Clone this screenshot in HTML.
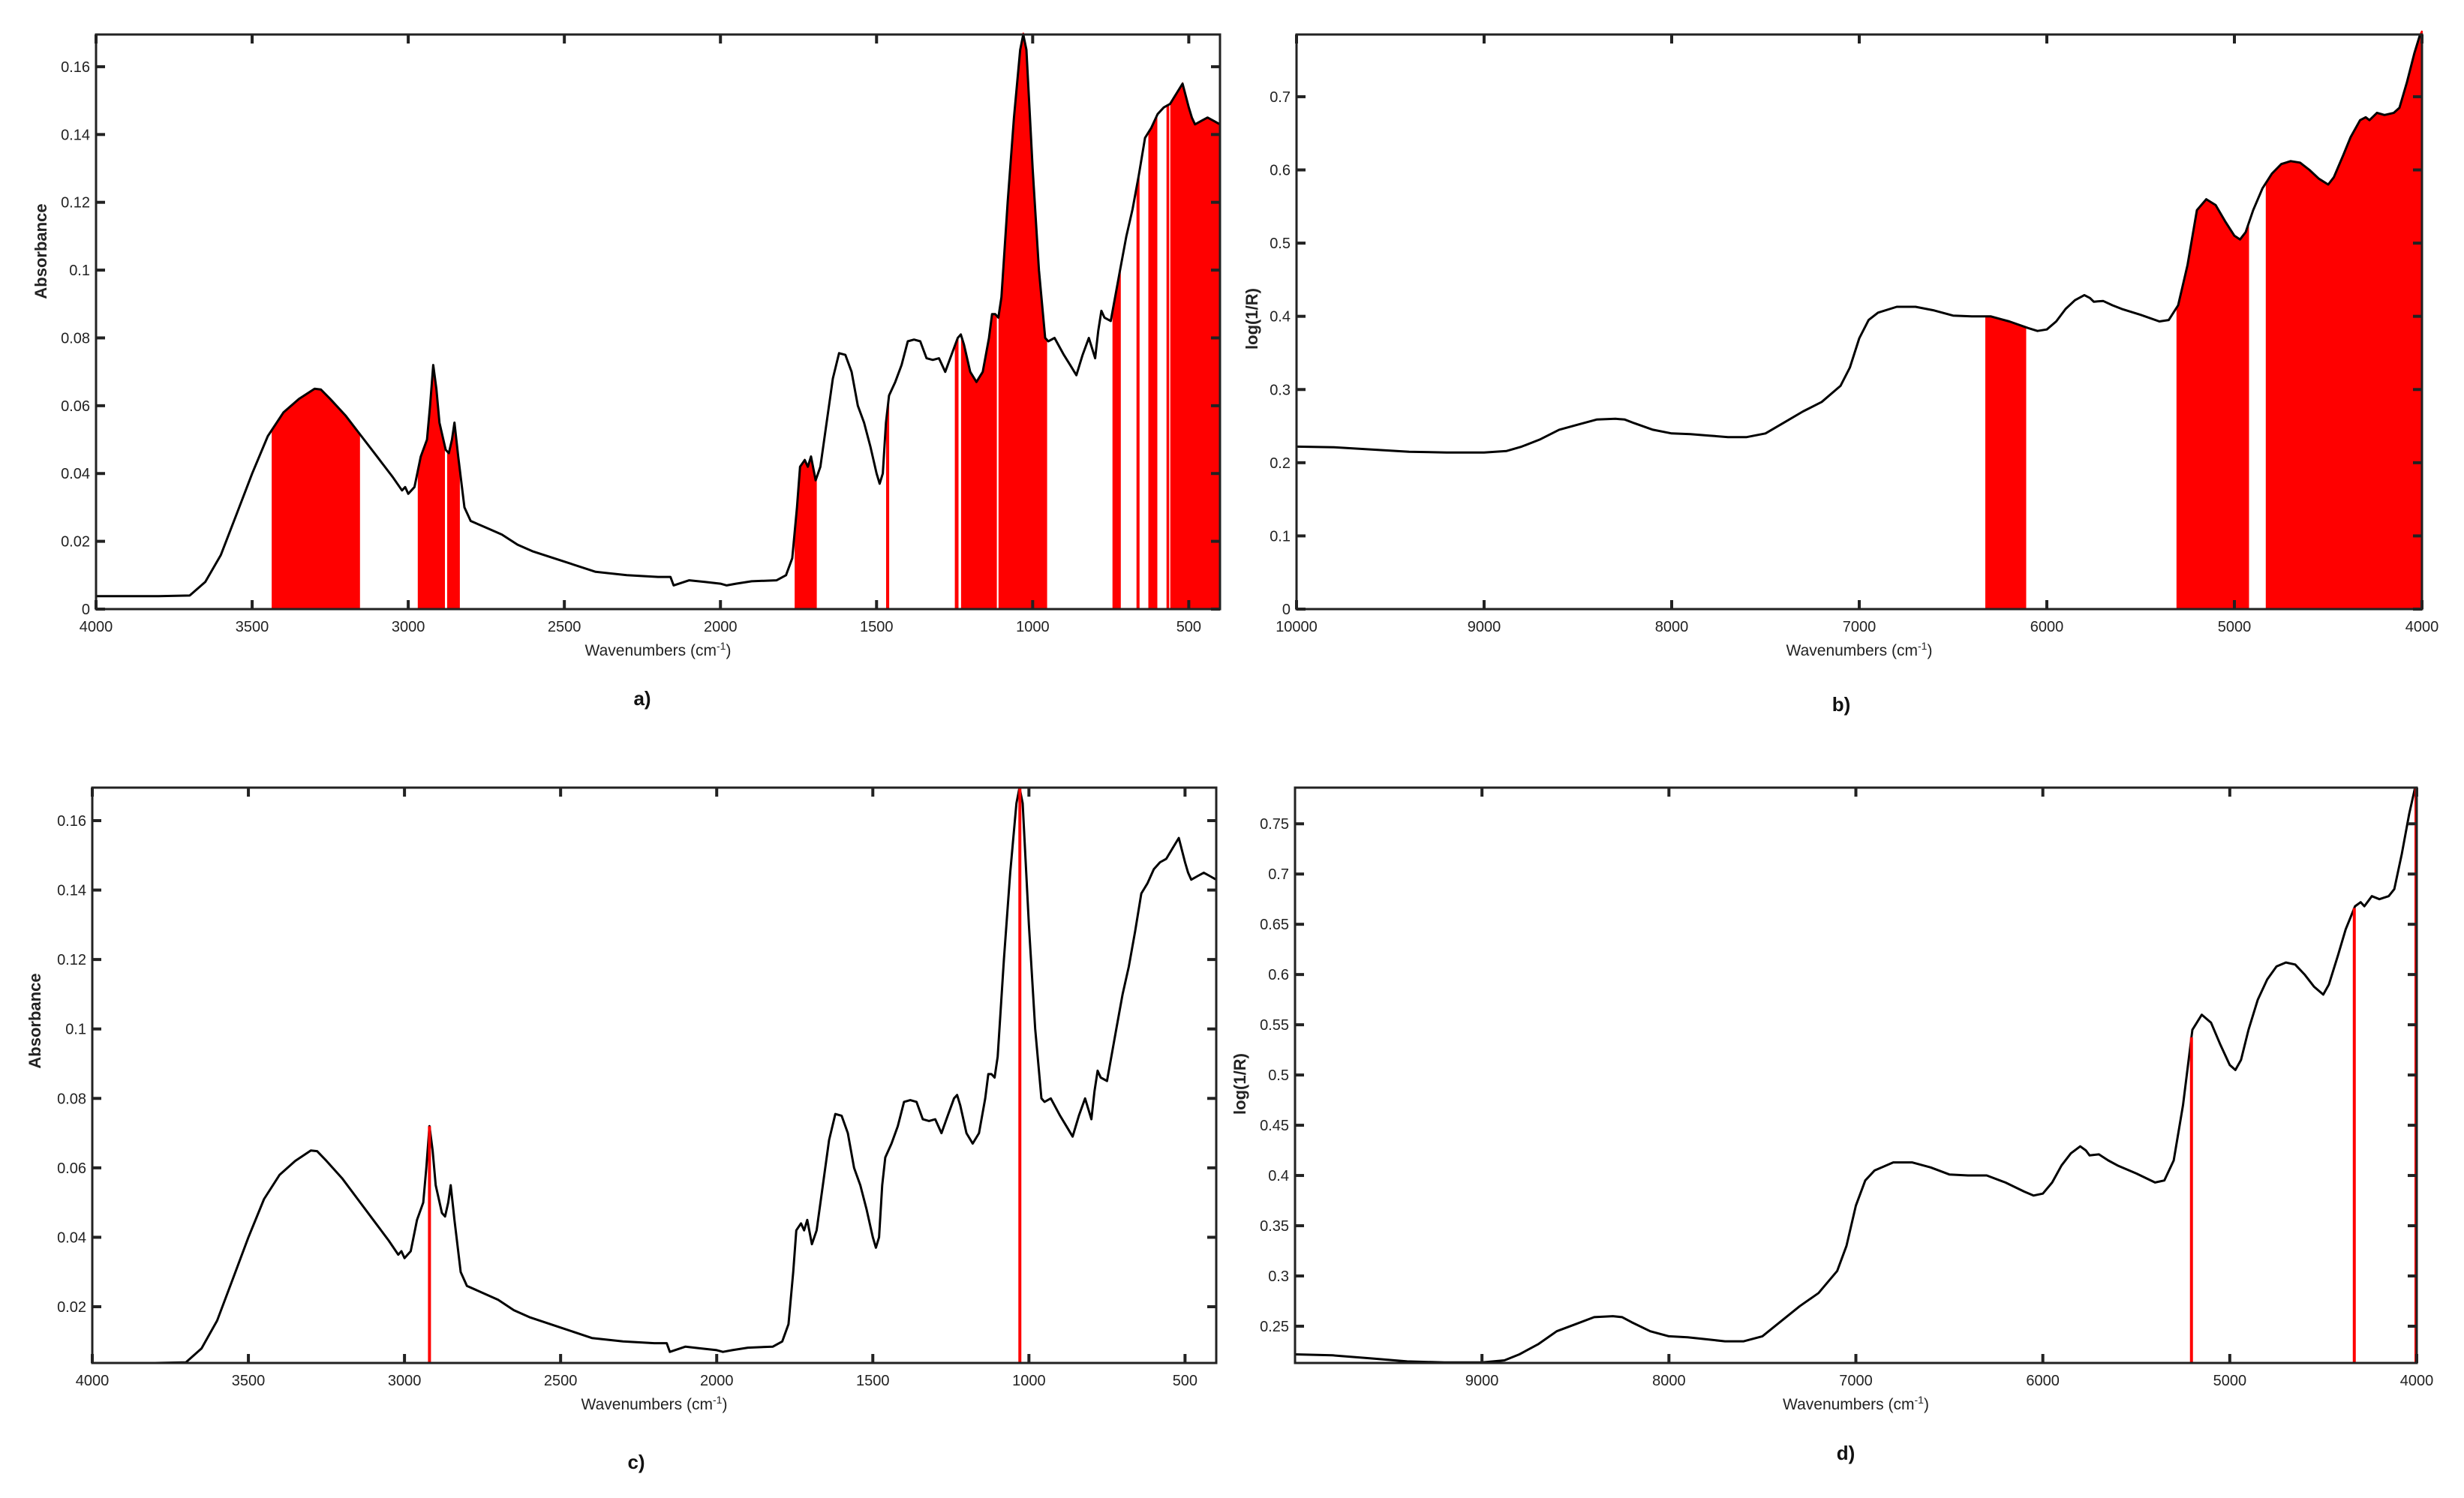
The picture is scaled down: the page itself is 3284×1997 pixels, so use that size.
<!DOCTYPE html>
<html><head><meta charset="utf-8">
<style>
html,body{margin:0;padding:0;background:#fff;}
svg{display:block;font-family:"Liberation Sans",sans-serif;}
</style></head>
<body>
<svg id="fig" width="3284" height="1997" viewBox="0 0 3284 1997" xmlns="http://www.w3.org/2000/svg"></svg>
<script>
// MIR spectrum (panels a, c)
const mirWavenumbers = [4000,3800,3700,3650,3600,3550,3500,3450,3400,3350,3300,3280,3250,3200,3150,3100,3050,3020,3010,3000,2980,2960,2940,2930,2920,2910,2900,2880,2870,2860,2852,2840,2820,2800,2750,2700,2650,2600,2500,2400,2300,2200,2160,2150,2100,2050,2000,1980,1950,1900,1820,1790,1770,1755,1745,1730,1720,1710,1695,1680,1660,1640,1620,1600,1580,1560,1540,1520,1500,1490,1480,1470,1460,1440,1420,1400,1380,1360,1340,1320,1300,1280,1260,1240,1230,1220,1200,1180,1160,1140,1130,1120,1110,1100,1080,1060,1040,1030,1020,1000,980,960,950,930,900,880,860,840,820,810,800,790,780,770,750,720,700,680,660,640,620,600,580,560,540,520,500,490,480,460,440,420,400];
const mirAbsorbance = [.0038,.0038,.004,.008,.016,.028,.040,.051,.058,.062,.065,.0648,.062,.057,.051,.045,.039,.035,.036,.034,.036,.045,.050,.060,.072,.065,.055,.047,.046,.050,.055,.045,.030,.026,.024,.022,.019,.017,.014,.011,.010,.0095,.0095,.007,.0085,.008,.0075,.007,.0075,.0082,.0085,.010,.015,.030,.042,.044,.042,.045,.038,.042,.055,.068,.0755,.075,.070,.060,.055,.048,.040,.037,.040,.055,.063,.067,.072,.079,.0795,.079,.074,.0735,.074,.070,.075,.080,.081,.078,.070,.067,.070,.080,.087,.087,.086,.092,.120,.145,.165,.170,.165,.130,.100,.080,.079,.080,.075,.072,.069,.075,.080,.077,.074,.082,.088,.086,.085,.100,.110,.118,.128,.139,.142,.146,.148,.149,.152,.155,.148,.145,.143,.144,.145,.144,.143];
// NIR spectrum (panels b, d)
const nirWavenumbers = [10000,9800,9600,9400,9200,9000,8880,8800,8700,8600,8500,8400,8300,8250,8200,8100,8000,7900,7800,7700,7600,7500,7400,7300,7200,7100,7050,7000,6950,6900,6800,6700,6600,6500,6400,6300,6200,6100,6050,6000,5950,5900,5850,5800,5770,5750,5700,5650,5600,5500,5400,5350,5300,5250,5200,5150,5100,5050,5000,4970,4940,4900,4850,4800,4750,4700,4650,4600,4550,4500,4470,4420,4380,4330,4300,4280,4240,4200,4150,4120,4080,4040,4010,4000];
const nirLogR = [.222,.221,.218,.215,.214,.214,.216,.222,.232,.245,.252,.259,.260,.259,.254,.245,.240,.239,.237,.235,.235,.240,.255,.270,.283,.305,.330,.370,.395,.405,.413,.413,.408,.401,.400,.400,.393,.384,.380,.382,.393,.410,.422,.429,.425,.420,.421,.415,.410,.402,.393,.395,.415,.470,.545,.560,.552,.530,.510,.505,.515,.545,.575,.595,.608,.612,.610,.600,.588,.580,.590,.620,.645,.668,.672,.668,.678,.675,.678,.685,.720,.760,.785,.790];
// selected regions
const aFillRanges = [[3435,3157],[2967,2885],[2873,2837],[1760,1694],[1467,1462],[1247,1240],[1227,1117],[1107,956],[742,720],[665,660],[627,603],[569,565],[557,400]];
const bFillRanges = [[6324,6114],[5305,4926],[4829,4000]];
const cLines = [2920,1029];
const dLines = [5205,4334,4004];
// ticks
const mirXTicks = [4000,3500,3000,2500,2000,1500,1000,500];
const aYTicks = [0,0.02,0.04,0.06,0.08,0.1,0.12,0.14,0.16];
const cYTicks = [0.02,0.04,0.06,0.08,0.1,0.12,0.14,0.16];
const bXTicks = [10000,9000,8000,7000,6000,5000,4000];
const dXTicks = [9000,8000,7000,6000,5000,4000];
const bYTicks = [0,0.1,0.2,0.3,0.4,0.5,0.6,0.7];
const dYTicks = [0.25,0.3,0.35,0.4,0.45,0.5,0.55,0.6,0.65,0.7,0.75];

const NS="http://www.w3.org/2000/svg";
const fig=document.getElementById('fig');
function mk(tag,attrs,parent){const e=document.createElementNS(NS,tag);for(const k in attrs)e.setAttribute(k,attrs[k]);(parent||fig).appendChild(e);return e;}
function interp(xs,ys,x){for(let i=0;i<xs.length-1;i++){const a=xs[i],b=xs[i+1];if((x<=a&&x>=b)||(x>=a&&x<=b)){const t=(x-a)/(b-a||1);return ys[i]+t*(ys[i+1]-ys[i]);}}return ys[ys.length-1];}
function fmt(v){return String(+v.toFixed(2));}

function panel(p){
  const g=mk('g',{});
  
  
  const sx=v=>p.l+(p.x0-v)/(p.x0-p.x1)*(p.r-p.l);
  const sy=v=>p.b-(v-p.y0)/(p.y1-p.y0)*(p.b-p.t);
  // fills
  (p.fills||[]).forEach(fr=>{
    const hi=fr[0],lo=fr[1];
    let pts=[[sx(hi),p.b],[sx(hi),sy(interp(p.xs,p.ys,hi))]];
    for(let i=0;i<p.xs.length;i++){if(p.xs[i]<hi&&p.xs[i]>lo)pts.push([sx(p.xs[i]),sy(p.ys[i])]);}
    pts.push([sx(lo),sy(interp(p.xs,p.ys,lo))],[sx(lo),p.b]);
    const f=mk('polygon',{points:pts.map(q=>q[0].toFixed(1)+','+q[1].toFixed(1)).join(' '),fill:'#ff0000',stroke:'#ff0000','stroke-width':2},g);
    
    
  });
  // curve
  const d=p.xs.map((x,i)=>(i?'L':'M')+sx(x).toFixed(1)+','+sy(Math.max(p.y0,Math.min(p.y1,p.ys[i]))).toFixed(1)).join(' ');
  const c=mk('path',{d:d,fill:'none',stroke:'#000','stroke-width':3,'stroke-linejoin':'round'},g);
  
  
  // red lines
  (p.lines||[]).forEach(x=>{
    const l=mk('line',{x1:sx(x),x2:sx(x),y1:p.b,y2:sy(Math.min(p.y1,interp(p.xs,p.ys,x))),stroke:'#ff0000','stroke-width':4},g);
    
    
  });
  // frame
  const fr=mk('rect',{x:p.l,y:p.t,width:p.r-p.l,height:p.b-p.t,fill:'none',stroke:'#222','stroke-width':3},g);
  
  
  // x ticks
  p.xt.forEach(v=>{
    const x=sx(v);
    mk('line',{x1:x,x2:x,y1:p.b,y2:p.b-12,stroke:'#222','stroke-width':4},g);
    mk('line',{x1:x,x2:x,y1:p.t,y2:p.t+12,stroke:'#222','stroke-width':4},g);
    const t=mk('text',{x:x,y:p.b+30,'text-anchor':'middle','font-size':20,fill:'#222'},g);
    t.textContent=v;
    
    
  });
  p.yt.forEach(v=>{
    const y=sy(v);
    mk('line',{x1:p.l,x2:p.l+12,y1:y,y2:y,stroke:'#222','stroke-width':4},g);
    mk('line',{x1:p.r,x2:p.r-12,y1:y,y2:y,stroke:'#222','stroke-width':4},g);
    const t=mk('text',{x:p.l-8,y:y+7,'text-anchor':'end','font-size':20,fill:'#222'},g);
    t.textContent=fmt(v);
    
    
  });
  const xl=mk('text',{x:(p.l+p.r)/2,y:p.b+62,'text-anchor':'middle','font-size':21,fill:'#222'},g);
  xl.innerHTML='Wavenumbers (cm<tspan dy="-8" font-size="14">-1</tspan><tspan dy="8">)</tspan>';
  
  
  const yl=mk('text',{x:p.ylx,y:p.yly,'text-anchor':'middle','font-size':22,'font-weight':'bold',fill:'#222',transform:'rotate(-90 '+p.ylx+' '+p.yly+')'},g);
  yl.textContent=p.ytitle;
  
  
  const pl=mk('text',{x:p.plx,y:p.ply,'text-anchor':'middle','font-size':26,'font-weight':'bold',fill:'#111'},g);
  pl.textContent=p.label;
  
  
}

panel({name:'panel-a',l:128,r:1626,t:46,b:812,x0:4000,x1:400,y0:0,y1:0.1695,xs:mirWavenumbers,ys:mirAbsorbance,fills:aFillRanges,xt:mirXTicks,yt:aYTicks,ytitle:'Absorbance',ylx:62,yly:335,label:'a)',plx:856,ply:940});
panel({name:'panel-b',l:1728,r:3228,t:46,b:812,x0:10000,x1:4000,y0:0,y1:0.785,xs:nirWavenumbers,ys:nirLogR,fills:bFillRanges,xt:bXTicks,yt:bYTicks,ytitle:'log(1/R)',ylx:1676,yly:425,label:'b)',plx:2454,ply:948});
panel({name:'panel-c',l:123,r:1621,t:1050,b:1817,x0:4000,x1:400,y0:0.0038,y1:0.1695,xs:mirWavenumbers,ys:mirAbsorbance,lines:cLines,xt:mirXTicks,yt:cYTicks,ytitle:'Absorbance',ylx:54,yly:1361,label:'c)',plx:848,ply:1958});
panel({name:'panel-d',l:1726,r:3221,t:1050,b:1817,x0:10000,x1:4000,y0:0.2134,y1:0.786,xs:nirWavenumbers,ys:nirLogR,lines:dLines,xt:dXTicks,yt:dYTicks,ytitle:'log(1/R)',ylx:1660,yly:1445,label:'d)',plx:2460,ply:1946});
</script>
</body></html>
